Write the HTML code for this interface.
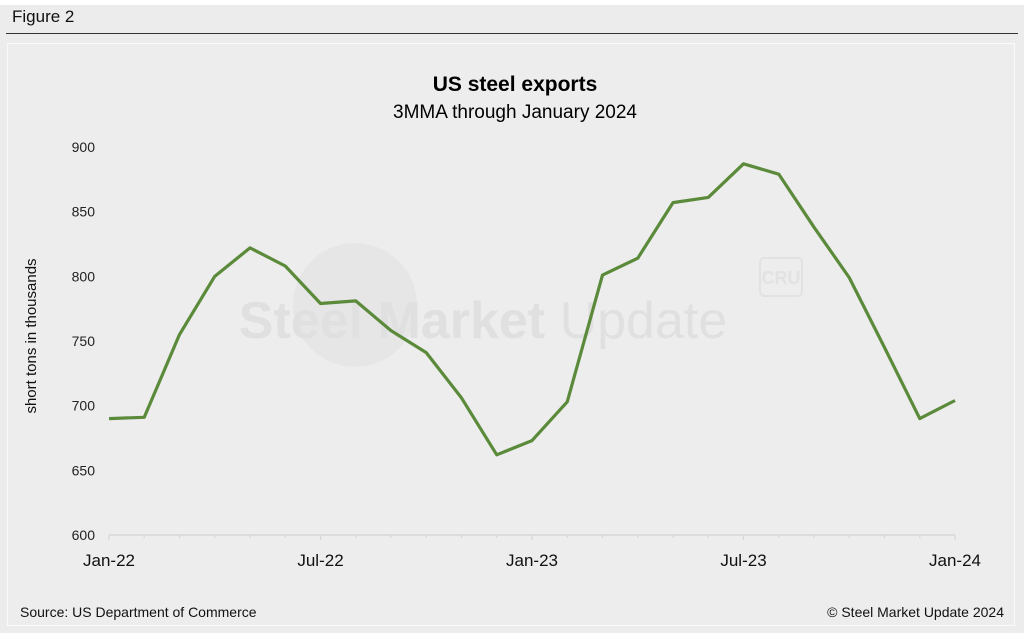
<!DOCTYPE html>
<html><head><meta charset="utf-8"><style>
html,body{margin:0;padding:0;background:#fff;}
body{width:1024px;height:633px;position:relative;overflow:hidden;font-family:"Liberation Sans",Arial,sans-serif;}
#bg{position:absolute;left:0;top:5px;width:1024px;height:628px;background:#ececec;}
#fig{position:absolute;left:12px;top:7px;font-size:17px;color:#111;}
#rule{position:absolute;left:6px;top:33px;width:1012px;height:1px;background:#333;}
#panel{position:absolute;left:7px;top:43px;width:1008px;height:583px;border:1.5px solid #fafafa;background:#ededed;box-sizing:border-box;}
svg{position:absolute;left:0;top:0;}
</style></head><body>
<div id="bg"></div>
<div id="fig">Figure 2</div>
<div id="rule"></div>
<div id="panel"></div>
<svg id="chart" width="1024" height="633">
<text x="515" y="91" text-anchor="middle" font-size="21" font-weight="bold" fill="#000">US steel exports</text>
<text x="515" y="118" text-anchor="middle" font-size="19" fill="#000">3MMA through January 2024</text>
<circle cx="355" cy="305" r="62" fill="#e6e6e6"/>
<text x="483" y="338" text-anchor="middle" font-size="52" font-weight="bold" fill="#e0e0e0">Steel Market <tspan font-weight="normal">Update</tspan></text>
<rect x="760" y="258" width="42" height="38" rx="4" fill="none" stroke="#e2e2e2" stroke-width="2"/>
<text x="781" y="284" text-anchor="middle" font-size="18" font-weight="bold" fill="#e2e2e2">CRU</text>
<text transform="translate(36,336) rotate(-90)" text-anchor="middle" font-size="15" fill="#111">short tons in thousands</text>
<text x="20" y="617" font-size="14" fill="#111">Source: US Department of Commerce</text>
<text x="1004" y="617" text-anchor="end" font-size="14" fill="#111">© Steel Market Update 2024</text>
</svg>
<script>
const months=["Jan-22","Feb-22","Mar-22","Apr-22","May-22","Jun-22","Jul-22","Aug-22","Sep-22","Oct-22","Nov-22","Dec-22","Jan-23","Feb-23","Mar-23","Apr-23","May-23","Jun-23","Jul-23","Aug-23","Sep-23","Oct-23","Nov-23","Dec-23","Jan-24"];
const exportsValues=[690,691,755,800,822,808,779,781,758,741,706,662,673,703,801,814,857,861,887,879,838,799,745,690,704];
const yTicks=[600,650,700,750,800,850,900];
const xLabelIdx=[0,6,12,18,24];
const NS="http://www.w3.org/2000/svg";
const svg=document.getElementById('chart');
const x0=109,x1=955,yTop=147,yBot=535,yMin=600,yMax=900;
const xs=i=>x0+(x1-x0)*i/(months.length-1);
const ys=v=>yBot-(v-yMin)/(yMax-yMin)*(yBot-yTop);
function mk(t,a){const e=document.createElementNS(NS,t);for(const k in a)e.setAttribute(k,a[k]);svg.appendChild(e);return e;}
yTicks.forEach(v=>{const t=mk('text',{x:95,y:ys(v)+5,'text-anchor':'end','font-size':14,fill:'#222'});t.textContent=v;

});
const ax=mk('line',{x1:x0,x2:x1,y1:yBot,y2:yBot,stroke:'#d6d6d6','stroke-width':1.5});


months.forEach((m,i)=>{const tk=mk('line',{x1:xs(i),x2:xs(i),y1:yBot,y2:yBot+(i%6==0?5:3),stroke:'#d6d6d6','stroke-width':1.2});

});
xLabelIdx.forEach(i=>{const t=mk('text',{x:xs(i),y:566,'text-anchor':'middle','font-size':17,fill:'#111'});t.textContent=months[i];

});
const p=mk('polyline',{points:exportsValues.map((v,i)=>xs(i)+','+ys(v)).join(' '),fill:'none',stroke:'#5a8a3a','stroke-width':3.2,'stroke-linejoin':'round'});


</script>
</body></html>
